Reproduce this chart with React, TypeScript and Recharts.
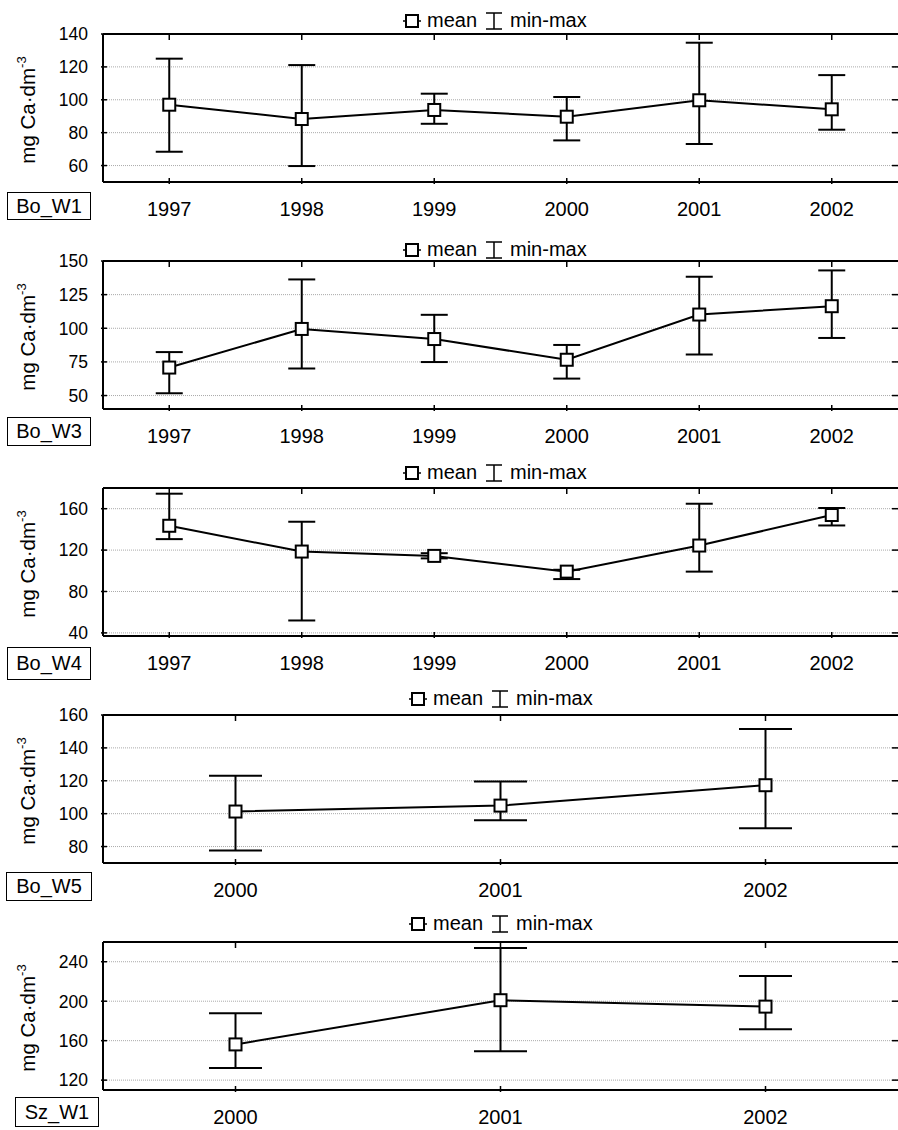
import React from "react";
import {
  LineChart,
  Line,
  XAxis,
  YAxis,
  CartesianGrid,
  ErrorBar,
  ReferenceLine,
  Legend,
} from "recharts";

const FONT = '"Liberation Sans", Arial, sans-serif';

const years6 = [1997, 1998, 1999, 2000, 2001, 2002];
const years3 = [2000, 2001, 2002];

const boW1Mean = [97, 88.3, 93.8, 89.7, 99.7, 94.2];
const boW1Min = [68.4, 59.7, 85.4, 75.3, 73.1, 81.8];
const boW1Max = [125, 121.1, 103.7, 101.7, 134.7, 115];
const boW1Ticks = [60, 80, 100, 120, 140];

const boW3Mean = [70.8, 99.5, 92, 76.6, 110.2, 116.4];
const boW3Min = [51.7, 70.1, 74.9, 62.6, 80.5, 92.8];
const boW3Max = [82.3, 136.3, 110, 87.6, 138.3, 143];
const boW3Ticks = [50, 75, 100, 125, 150];

const boW4Mean = [143.5, 118.6, 114.4, 99.2, 124.4, 153.9];
const boW4Min = [130.6, 52, 112, 92, 99.2, 143.8];
const boW4Max = [174.5, 147.4, 117, 101, 164.8, 160.7];
const boW4Ticks = [40, 80, 120, 160];

const boW5Mean = [101.3, 104.9, 117.3];
const boW5Min = [77.6, 96, 91.2];
const boW5Max = [123.1, 119.5, 151.5];
const boW5Ticks = [80, 100, 120, 140, 160];

const szW1Mean = [156.2, 201, 194.5];
const szW1Min = [132.3, 149.3, 171.6];
const szW1Max = [187.7, 254, 225.6];
const szW1Ticks = [120, 160, 200, 240];

const W = 898;
const H = 227;
const TOP = 34;
const PLOT_H = 148;

const SquareDot = (p: any) => (
  <rect
    key={p.index}
    x={p.cx - 6}
    y={p.cy - 6}
    width={12}
    height={12}
    fill="#fff"
    stroke="#000"
    strokeWidth={2}
  />
);

const XTick = (p: any) => (
  <g>
    <line x1={p.x} x2={p.x} y1={p.y} y2={p.y - 6} stroke="#000" strokeWidth={1.5} />
    <line x1={p.x} x2={p.x} y1={TOP} y2={TOP + 6} stroke="#000" strokeWidth={1.5} />
    <text x={p.x} y={p.y + 32} textAnchor="middle" fontSize={20} fontFamily={FONT} fill="#000">
      {p.payload.value}
    </text>
  </g>
);

const YTick = (p: any) => (
  <g>
    <line x1={p.x} x2={p.x + 6} y1={p.y} y2={p.y} stroke="#000" strokeWidth={1.5} />
    <line x1={W - 6} x2={W} y1={p.y} y2={p.y} stroke="#000" strokeWidth={1.5} />
    <text x={p.x - 13} y={p.y} dy="0.36em" textAnchor="end" fontSize={17.5} fontFamily={FONT} fill="#000">
      {p.payload.value}
    </text>
  </g>
);

const YTitle = () => {
  const cx = 35;
  const cy = TOP + PLOT_H / 2 + 2;
  return (
    <text
      x={cx}
      y={cy}
      transform={`rotate(-90 ${cx} ${cy})`}
      textAnchor="middle"
      fontSize={20.5}
      fontFamily={FONT}
      fill="#000"
    >
      <tspan>mg Ca·dm</tspan>
      <tspan dy={-9} fontSize={13}>-3</tspan>
    </text>
  );
};

const LegendBox = () => (
  <svg width={200} height={24} style={{ display: "block" }}>
    <line x1={0} x2={18} y1={12} y2={12} stroke="#000" strokeWidth={1.5} />
    <rect x={3} y={6} width={12} height={12} fill="#fff" stroke="#000" strokeWidth={2} />
    <text x={24} y={18} fontSize={20} fontFamily={FONT} fill="#000">mean</text>
    <line x1={91} x2={91} y1={4} y2={20} stroke="#000" strokeWidth={1.5} />
    <line x1={83} x2={99} y1={4} y2={4} stroke="#000" strokeWidth={1.5} />
    <line x1={83} x2={99} y1={20} y2={20} stroke="#000" strokeWidth={1.5} />
    <text x={107} y={18} fontSize={20} fontFamily={FONT} fill="#000">min-max</text>
  </svg>
);

type PanelProps = {
  name: string;
  years: number[];
  mean: number[];
  min: number[];
  max: number[];
  domain: [number, number];
  ticks: number[];
  cap: number;
  legendTop: number;
  legendLeft: number;
  box: { left: number; top: number; w: number; h: number };
};

function Panel(props: PanelProps) {
  const { years, mean, min, max, domain } = props;
  const rows = years.map((year, i) => ({
    year,
    mean: mean[i],
    err: [mean[i] - min[i], max[i] - mean[i]],
  }));
  return (
    <div style={{ position: "relative", width: W, height: H }}>
      <LineChart width={W} height={H} data={rows} margin={{ top: TOP, right: 0, bottom: 0, left: 0 }}>
        <CartesianGrid vertical={false} stroke="#aaa" strokeDasharray="1 1" />
        <XAxis
          type="number"
          dataKey="year"
          domain={[years[0] - 0.5, years[years.length - 1] + 0.5]}
          ticks={years}
          interval={0}
          height={H - TOP - PLOT_H}
          tickLine={false}
          tickSize={0}
          axisLine={{ stroke: "#000", strokeWidth: 2 }}
          tick={<XTick />}
        />
        <YAxis
          domain={domain}
          ticks={props.ticks}
          interval={0}
          allowDataOverflow
          width={103}
          tickLine={false}
          tickSize={0}
          axisLine={{ stroke: "#000", strokeWidth: 2 }}
          tick={<YTick />}
          label={<YTitle />}
        />
        <ReferenceLine y={domain[1]} stroke="#000" strokeWidth={2} />
        <Line
          dataKey="mean"
          stroke="#000"
          strokeWidth={2}
          dot={SquareDot}
          activeDot={false}
          isAnimationActive={false}
        >
          <ErrorBar dataKey="err" direction="y" width={props.cap} stroke="#000" strokeWidth={2} isAnimationActive={false} />
        </Line>
        <Legend
          layout="horizontal"
          verticalAlign="middle"
          align="center"
          content={<LegendBox />}
          wrapperStyle={{ top: props.legendTop, left: props.legendLeft, width: 200 }}
        />
      </LineChart>
      <div
        style={{
          position: "absolute",
          left: props.box.left,
          top: props.box.top,
          width: props.box.w,
          height: props.box.h,
          boxSizing: "border-box",
          border: "1.3px solid #000",
          display: "flex",
          alignItems: "center",
          justifyContent: "center",
          fontSize: 20,
          fontFamily: FONT,
          background: "#fff",
        }}
      >
        {props.name}
      </div>
    </div>
  );
}

export default function App() {
  return (
    <div style={{ position: "absolute", left: 0, top: 0, width: W, background: "#fff" }}>
      <Panel name="Bo_W1" years={years6} mean={boW1Mean} min={boW1Min} max={boW1Max}
        domain={[50, 140]} ticks={boW1Ticks} cap={13.5} legendTop={9} legendLeft={403}
        box={{ left: 7, top: 192, w: 84, h: 28 }} />
      <Panel name="Bo_W3" years={years6} mean={boW3Mean} min={boW3Min} max={boW3Max}
        domain={[40, 150]} ticks={boW3Ticks} cap={13.5} legendTop={11} legendLeft={403}
        box={{ left: 7, top: 190, w: 84, h: 29 }} />
      <Panel name="Bo_W4" years={years6} mean={boW4Mean} min={boW4Min} max={boW4Max}
        domain={[37, 180]} ticks={boW4Ticks} cap={13.5} legendTop={7} legendLeft={403}
        box={{ left: 7, top: 193, w: 84, h: 33 }} />
      <Panel name="Bo_W5" years={years3} mean={boW5Mean} min={boW5Min} max={boW5Max}
        domain={[70, 160]} ticks={boW5Ticks} cap={26.5} legendTop={6} legendLeft={409}
        box={{ left: 6, top: 191, w: 86, h: 29 }} />
      <Panel name="Sz_W1" years={years3} mean={szW1Mean} min={szW1Min} max={szW1Max}
        domain={[110, 260]} ticks={szW1Ticks} cap={26.5} legendTop={4} legendLeft={409}
        box={{ left: 15, top: 189, w: 84, h: 30 }} />
    </div>
  );
}
